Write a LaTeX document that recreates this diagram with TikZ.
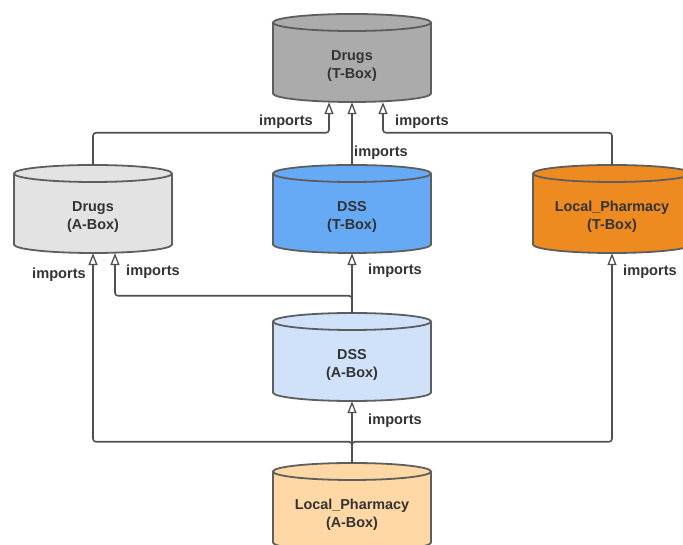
\documentclass[tikz,border=0pt]{standalone}
\usepackage{fontspec}
\setmainfont{Liberation Sans}
\usetikzlibrary{arrows.meta}

\definecolor{edgegray}{HTML}{5E5E5E}
\definecolor{linegray}{HTML}{505050}
\definecolor{txt}{HTML}{333333}
\definecolor{tboxgray}{HTML}{ABABAB}
\definecolor{aboxgray}{HTML}{E3E3E3}
\definecolor{tboxblue}{HTML}{66AAF6}
\definecolor{aboxblue}{HTML}{CFE2FA}
\definecolor{tboxorange}{HTML}{EE8B20}
\definecolor{aboxorange}{HTML}{FFD8A6}

% database cylinder: #1 name, #2 centre x, #3 top y, #4 fill, #5 label
\newcommand\dbcyl[5]{%
  \fill[#4] (#2-79,#3-8.5) -- (#2-79,#3-79.5)
    arc[start angle=180,end angle=360,x radius=79pt,y radius=8.5pt]
    -- (#2+79,#3-8.5)
    arc[start angle=0,end angle=180,x radius=79pt,y radius=8.5pt] -- cycle;
  \draw[cylline] (#2-79,#3-8.5) -- (#2-79,#3-79.5)
    arc[start angle=180,end angle=360,x radius=79pt,y radius=8.5pt]
    -- (#2+79,#3-8.5);
  \draw[cylline] (#2,#3-8.5) ellipse[x radius=79pt,y radius=8.5pt];
  \node[minimum width=158pt,minimum height=88pt,inner sep=0pt] (#1) at (#2,#3-44) {};
  \node[dbtext] (#1-text) at (#2,#3-52) {#5};
}

\tikzset{
  cylline/.style={draw=edgegray,line width=1.8pt},
  dbtext/.style={text=txt,align=center,font=\fontsize{14.4}{18}\selectfont\bfseries},
  imp/.style={draw=linegray,line width=1.6pt,rounded corners=3pt,
    -{Triangle[open,length=12pt,width=9pt,line width=1.3pt]}},
  implabel/.style={text=txt,font=\fontsize{14.6}{16}\selectfont\bfseries,inner sep=0pt},
}

\begin{document}
\begin{tikzpicture}[x=1pt,y=1pt]
  \useasboundingbox (0,0) rectangle (683,545);
  \clip (0,0) rectangle (683,545);
  \fill[white] (0,0) rectangle (683,545);

  \dbcyl{drugsT}{352}{531}{tboxgray}{Drugs\\(T-Box)}
  \dbcyl{drugsA}{93}{380}{aboxgray}{Drugs\\(A-Box)}
  \dbcyl{dssT}{352}{380}{tboxblue}{DSS\\(T-Box)}
  \dbcyl{lpT}{612}{380}{tboxorange}{Local\_Pharmacy\\(T-Box)}
  \dbcyl{dssA}{352}{232}{aboxblue}{DSS\\(A-Box)}
  \dbcyl{lpA}{352}{82}{aboxorange}{Local\_Pharmacy\\(A-Box)}

  % imports into Drugs (T-Box)
  \draw[imp] (drugsA.north) -- ++(0,32) -| ([xshift=-23pt]drugsT.south);
  \draw[imp] (dssT.north) -- (drugsT.south);
  \draw[imp] (lpT.north) -- ++(0,32) -| ([xshift=31pt]drugsT.south);

  % imports of DSS (A-Box)
  \draw[imp] (dssA.north) -- (dssT.south);
  \draw[imp] (dssA.north) -- ++(0,17) -| ([xshift=22pt]drugsA.south);

  % imports of Local_Pharmacy (A-Box)
  \draw[imp] (lpA.north) -- (dssA.south);
  \draw[imp] (lpA.north) -- ++(0,21) -| (drugsA.south);
  \draw[imp] (lpA.north) -- ++(0,21) -| (lpT.south);

  \node[implabel] (l1) at (286,423) {imports};
  \node[implabel] (l2) at (422,423) {imports};
  \node[implabel] (l3) at (381,392) {imports};
  \node[implabel] (l4) at (59,270) {imports};
  \node[implabel] (l5) at (153,273) {imports};
  \node[implabel] (l6) at (395,274) {imports};
  \node[implabel] (l7) at (650,273) {imports};
  \node[implabel] (l8) at (395,124) {imports};
\end{tikzpicture}
\end{document}
